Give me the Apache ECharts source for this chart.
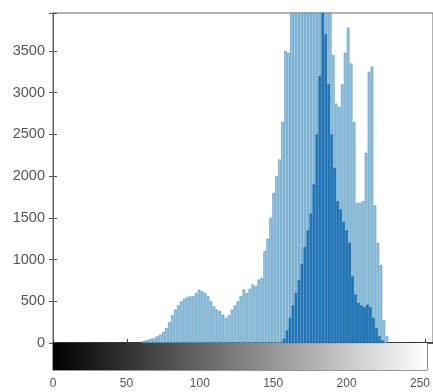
<!DOCTYPE html>
<html>
<head>
<meta charset="utf-8">
<script src="https://cdn.jsdelivr.net/npm/echarts@6/dist/echarts.min.js"></script>
<style>html,body{margin:0;padding:0;background:#fff}#c{width:433px;height:392px}</style>
</head>
<body>
<div id="c"></div>
<script>
// Light-blue histogram: bin positions (even gray levels) and counts
var lightBins = [60,62,64,66,68,70,72,74,76,78,80,82,84,86,88,90,92,94,96,98,100,102,104,106,108,110,112,114,116,118,120,122,124,126,128,130,132,134,136,138,140,142,144,146,148,150,152,154,156,158,160,162,164,166,168,170,172,174,176,178,180,182,184,186,188,190,192,194,196,198,200,202,204,206,208,210,212,214,216,218,220,222,224];
var lightCounts = [20,30,40,50,60,80,100,130,180,250,330,400,450,500,530,550,560,560,600,640,620,600,560,500,440,400,380,340,300,330,400,450,500,560,640,600,650,700,680,760,780,1100,1250,1500,1800,2000,2200,2650,3500,3480,4500,4500,4500,4500,4500,4500,4500,4500,4500,4500,4500,4500,4500,4500,3450,2870,2830,3100,3480,3780,3350,2650,1680,1680,1700,2280,3250,3310,1650,1200,935,275,80];
// Dark-blue histogram: bin positions (odd gray levels) and counts
var darkBins = [155,157,159,161,163,165,167,169,171,173,175,177,179,181,183,185,187,189,191,193,195,197,199,201,203,205,207,209,211,213,215,217,219,221];
var darkCounts = [50,150,300,450,600,750,950,1150,1350,1550,1900,2500,3200,4200,3700,3100,2500,2100,1700,1600,1450,1350,1200,800,580,480,450,430,460,430,300,180,80,30];
var xTicks = [0,50,100,150,200,250];
var yTicks = [0,500,1000,1500,2000,2500,3000,3500];

var light = lightBins.map(function(b,i){return [b, lightCounts[i]];});
var dark = darkBins.map(function(b,i){return [b, darkCounts[i]];});

var chart = echarts.init(document.getElementById('c'));
var font = 'Liberation Sans, Arial, sans-serif';
chart.setOption({
  animation: false,
  backgroundColor: '#fff',
  grid: [
    {left: 53, top: 13, width: 382, height: 330, show: true, borderColor: '#666', borderWidth: 1, backgroundColor: '#fff'},
    {left: 53, top: 343, width: 382, height: 27, show: true, borderColor: '#333', borderWidth: 1}
  ],
  xAxis: [
    {gridIndex: 0, type: 'value', min: 0, max: 255, interval: 50, position: 'bottom',
     axisLine: {show: true, lineStyle: {color: '#222', width: 1.5}},
     axisTick: {show: true, inside: true, length: 4, lineStyle: {color: '#444'}},
     axisLabel: {show: false}, splitLine: {show: false}},
    {gridIndex: 0, type: 'value', min: 0, max: 255, interval: 50, position: 'top',
     axisLine: {show: true, lineStyle: {color: '#555'}},
     axisTick: {show: true, inside: true, length: 4, lineStyle: {color: '#555'}},
     axisLabel: {show: false}, splitLine: {show: false}},
    {gridIndex: 1, type: 'value', min: 0, max: 255, interval: 50, position: 'bottom',
     axisLine: {show: false}, axisTick: {show: false}, splitLine: {show: false},
     axisLabel: {show: true, margin: 8, color: '#555', fontFamily: font, fontSize: 12,
       formatter: function(v){ return xTicks.indexOf(v) >= 0 ? String(v) : ''; }}}
  ],
  yAxis: [
    {gridIndex: 0, type: 'value', min: 0, max: 3955, interval: 500, position: 'left',
     axisLine: {show: true, lineStyle: {color: '#666'}},
     axisTick: {show: true, inside: true, length: 4, lineStyle: {color: '#555'}},
     splitLine: {show: false},
     axisLabel: {show: true, margin: 8, color: '#555', fontFamily: font, fontSize: 14.5,
       formatter: function(v){ return yTicks.indexOf(v) >= 0 ? String(v) : ''; }}},
    {gridIndex: 0, type: 'value', min: 0, max: 3955, interval: 500, position: 'right',
     axisLine: {show: true, lineStyle: {color: '#666'}},
     axisTick: {show: true, inside: true, length: 4, lineStyle: {color: '#555'}},
     splitLine: {show: false}, axisLabel: {show: false}},
    {gridIndex: 1, type: 'value', min: 0, max: 1, show: false}
  ],
  series: [
    {type: 'bar', xAxisIndex: 0, yAxisIndex: 0, data: light, barWidth: 2.6, clip: true,
     itemStyle: {color: '#98cfea', borderColor: '#4f88b0', borderWidth: 0.6}, silent: true},
    {type: 'bar', xAxisIndex: 0, yAxisIndex: 0, data: dark, barWidth: 2.4, clip: true, barGap: '-100%',
     itemStyle: {color: '#1f79c2', borderColor: '#0f5b98', borderWidth: 0.5}, silent: true},
    {type: 'custom', xAxisIndex: 2, yAxisIndex: 2, data: [[0, 255]], silent: true,
     renderItem: function(params, api){
       var p0 = api.coord([api.value(0), 1]);
       var p1 = api.coord([api.value(1), 0]);
       return {type: 'rect', shape: {x: p0[0], y: p0[1], width: p1[0]-p0[0], height: p1[1]-p0[1]},
         style: {fill: new echarts.graphic.LinearGradient(0,0,1,0,[{offset:0,color:'#000'},{offset:1,color:'#fff'}])}};
     }}
  ]
});
</script>
</body>
</html>
